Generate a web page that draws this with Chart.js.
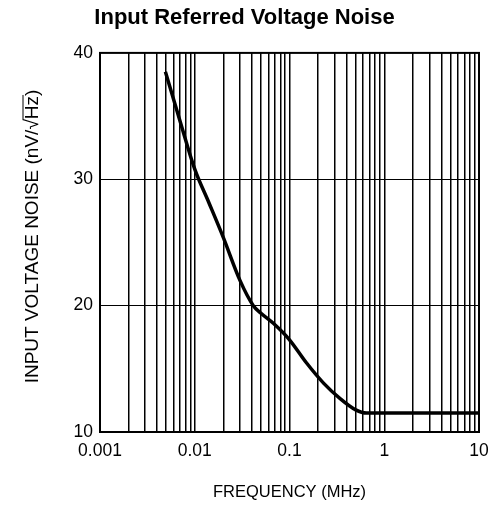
<!DOCTYPE html>
<html>
<head>
<meta charset="utf-8">
<script src="https://cdn.jsdelivr.net/npm/chart.js@4/dist/chart.umd.min.js"></script>
<style>
  html, body { margin: 0; padding: 0; background: #fff; }
  #wrap { width: 489px; height: 505px; }
</style>
</head>
<body>
<div id="wrap"><canvas id="noiseChart"></canvas></div>
<script>
// Noise curve, MHz vs nV/rtHz
const freqMHz = [0.0049, 0.007, 0.01, 0.014, 0.02, 0.03, 0.0415, 0.05, 0.0675, 0.1, 0.15, 0.23, 0.34, 0.5, 0.65, 1, 10];
const noise   = [38.5, 34.6, 30.8, 28.2, 25.4, 22.0, 20.0, 19.4, 18.6, 17.3, 15.5, 13.85, 12.66, 11.75, 11.5, 11.5, 11.5];

const decadeLabels = ['0.001', '0.01', '0.1', '1', '10'];
const yTicks = [10, 20, 30, 40];

const chartTitle = 'Input Referred Voltage Noise';
const xTitle = 'FREQUENCY (MHz)';
const yTitle = 'INPUT VOLTAGE NOISE (nV/\u221AHz)';

const FONT = '"Liberation Sans", Arial, Helvetica, sans-serif';

// rotated y title, drawn by hand so the root sign gets its bar over "Hz"
const yTitlePlugin = {
    id: 'yTitle',
    afterDraw(chart) {
        const ctx = chart.ctx;
        ctx.save();
        ctx.font = '19px ' + FONT;
        ctx.fillStyle = '#000';
        ctx.strokeStyle = '#000';
        ctx.lineWidth = 1;
        ctx.translate(33, 236.5);
        ctx.rotate(-Math.PI / 2);
        ctx.textAlign = 'left';
        ctx.textBaseline = 'alphabetic';
        const w = ctx.measureText(yTitle).width;
        const x0 = -w / 2;
        ctx.fillText(yTitle, x0, 5);
        const rootAt = yTitle.indexOf('\u221A');
        const a = ctx.measureText(yTitle.slice(0, rootAt + 1)).width;
        const b = ctx.measureText(yTitle.slice(0, rootAt + 3)).width;
        ctx.beginPath();
        ctx.moveTo(x0 + a - 1, -10);
        ctx.lineTo(x0 + b + 1, -10);
        ctx.stroke();
        ctx.restore();
    }
};

const ctx = document.getElementById('noiseChart');

new Chart(ctx, {
    type: 'line',
    data: {
        datasets: [{
            data: freqMHz.map((f, i) => ({ x: f, y: noise[i] })),
            borderColor: '#000',
            borderWidth: 3.5,
            pointRadius: 0,
            fill: false,
            cubicInterpolationMode: 'monotone'
        }]
    },
    options: {
        responsive: true,
        maintainAspectRatio: false,
        animation: false,
        devicePixelRatio: 1,
        layout: { padding: { left: 0, right: 0, top: 0, bottom: 0 } },
        plugins: {
            legend: { display: false },
            tooltip: { enabled: false },
            title: {
                display: true,
                text: chartTitle,
                color: '#000',
                font: { family: FONT, size: 22, weight: 'bold' },
                padding: { top: 4.5, bottom: 22 }
            }
        },
        scales: {
            x: {
                type: 'logarithmic',
                min: 0.001,
                max: 10,
                afterBuildTicks: (scale) => {
                    const ticks = [];
                    decadeLabels.forEach((lbl, d) => {
                        const base = parseFloat(lbl);
                        const last = d === decadeLabels.length - 1 ? 1 : 9;
                        for (let m = 1; m <= last; m++) {
                            ticks.push({ value: +(base * m).toPrecision(3) });
                        }
                    });
                    scale.ticks = ticks;
                },
                afterFit: (scale) => {
                    scale.height = 73;
                    // only the overhang of the "10" label is needed on the right
                    scale.paddingRight = 10;
                },
                border: { display: true, color: '#000', width: 2 },
                grid: {
                    color: '#000',
                    lineWidth: 1.5,
                    drawTicks: false
                },
                ticks: {
                    autoSkip: false,
                    maxRotation: 0,
                    padding: 9,
                    color: '#000',
                    font: { family: FONT, size: 17.5 },
                    callback: (v) => {
                        const i = decadeLabels.findIndex(l => Math.abs(parseFloat(l) - v) < 1e-9);
                        return i >= 0 ? decadeLabels[i] : '';
                    }
                },
                title: {
                    display: true,
                    text: xTitle,
                    color: '#000',
                    font: { family: FONT, size: 16.5 },
                    padding: { top: 0, bottom: 3 }
                }
            },
            y: {
                min: yTicks[0],
                max: yTicks[yTicks.length - 1],
                afterBuildTicks: (scale) => {
                    scale.ticks = yTicks.map(v => ({ value: v }));
                },
                afterFit: (scale) => { scale.width = 100; },
                border: { display: true, color: '#000', width: 2 },
                grid: {
                    color: '#000',
                    lineWidth: 1,
                    drawTicks: false
                },
                ticks: {
                    padding: 7,
                    color: '#000',
                    font: { family: FONT, size: 17.5 }
                }
            }
        }
    },
    plugins: [yTitlePlugin, {
        // closes the frame on the top and right sides
        id: 'frame',
        afterDatasetsDraw(chart) {
            const { ctx, chartArea: a } = chart;
            ctx.save();
            ctx.strokeStyle = '#000';
            ctx.lineWidth = 2;
            ctx.strokeRect(a.left, a.top, a.right - a.left, a.bottom - a.top);
            ctx.restore();
        }
    }]
});
</script>
</body>
</html>
